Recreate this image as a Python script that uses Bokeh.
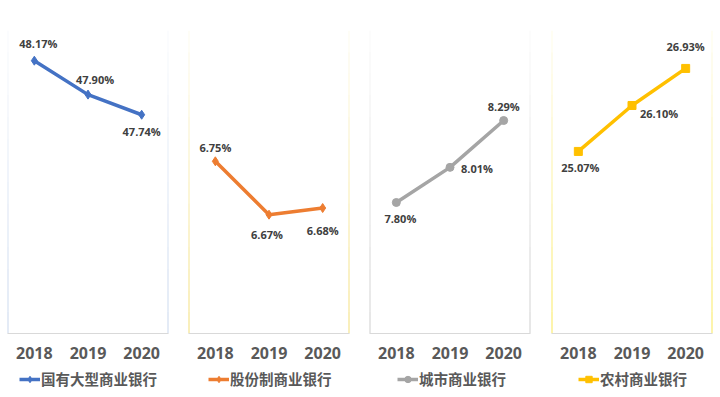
from bokeh.plotting import figure
from bokeh.models import Range1d, FixedTicker, Legend, LegendItem, ColumnDataSource
from bokeh.layouts import row, column
from bokeh.embed import file_html
from bokeh.resources import INLINE
from bokeh.core.properties import value

# ---- data ----
years = ["2018", "2019", "2020"]
series_names = ["国有大型商业银行", "股份制商业银行", "城市商业银行", "农村商业银行"]
big_state = [48.17, 47.90, 47.74]
joint_stock = [6.75, 6.67, 6.68]
city_banks = [7.80, 8.01, 8.29]
rural_banks = [25.07, 26.10, 26.93]
all_values = [big_state, joint_stock, city_banks, rural_banks]

# ---- styling ----
colors = ["#4472C4", "#ED7D31", "#A5A5A5", "#FFC000"]
border_colors = ["#c9d7ee", "#f3df7a", "#cfcfcf", "#fbe95a"]
markers = ["diamond", "diamond", "circle", "square"]
marker_sizes = [9, 9, 8, 8]
y_ranges = [(46.0, 48.41), (6.492, 6.946), (7.017, 8.828), (20.99, 27.78)]
# label offsets (screen px) per point
label_dx = [[4, 7, 0], [0, -2, 0], [4, 27, 0], [2, 27, 0]]
label_dy = [[-17, -15, 17], [-14, 20, 22], [16, 1, -14], [16, 8, -22]]
border_left = [7, 10, 10, 11]
border_right = [10, 10, 10, 1]
legend_x = [19, 30, 38, 38]


def style_common(p):
    p.outline_line_color = None
    p.grid.visible = False
    p.background_fill_color = "white"
    p.border_fill_color = "white"


plot_figs = []
legend_figs = []
for i in range(4):
    vals = all_values[i]
    xs = list(range(len(years)))
    src = ColumnDataSource(dict(
        x=xs, y=vals, lab=[f"{v:.2f}%" for v in vals],
        dx=label_dx[i], dy=label_dy[i]))
    p = figure(frame_width=161, frame_height=303, output_backend="svg", toolbar_location=None,
               x_range=Range1d(-0.5, len(years) - 0.5),
               y_range=Range1d(*y_ranges[i]),
               min_border_left=border_left[i], min_border_right=border_right[i],
               min_border_top=30, min_border_bottom=34)
    style_common(p)
    p.yaxis.visible = False

    # panel borders fading upward
    x0, x1 = p.x_range.start, p.x_range.end
    y0, y1 = p.y_range.start, p.y_range.end
    nseg = 14
    for k in range(nseg):
        ya = y0 + (y1 - y0) * k / nseg
        yb = y0 + (y1 - y0) * (k + 1) / nseg
        a = 1.0 - k / nseg * 0.92
        p.segment(x0=[x0, x1], y0=[ya, ya], x1=[x0, x1], y1=[yb, yb],
                  line_color=border_colors[i], line_alpha=a, line_width=2)

    ax = p.xaxis[0]
    ax.ticker = FixedTicker(ticks=xs)
    ax.major_label_overrides = {j: years[j] for j in xs}
    ax.axis_line_color = "#d9d9d9"
    ax.axis_line_width = 1
    ax.major_tick_line_color = None
    ax.minor_tick_line_color = None
    ax.major_label_standoff = 7
    ax.major_label_text_font = "Open Sans"
    ax.major_label_text_font_style = "bold"
    ax.major_label_text_font_size = "16px"
    ax.major_label_text_color = "#595959"

    p.line("x", "y", source=src, line_color=colors[i], line_width=3.5)
    p.scatter("x", "y", source=src, marker=markers[i], size=marker_sizes[i],
              fill_color=colors[i], line_color=colors[i])
    p.text("x", "y", text="lab", source=src, x_offset="dx", y_offset="dy",
           text_align="center", text_baseline="middle",
           text_font=value("Open Sans"), text_font_style="bold",
           text_font_size="11px", text_color="#404040")
    plot_figs.append(p)

    # legend strip under the panel (series drawn outside its view, only the key shows)
    q = figure(width=161 + border_left[i] + border_right[i], height=30,
               output_backend="svg", toolbar_location=None,
               x_axis_type=None, y_axis_type=None,
               x_range=Range1d(100, 101), y_range=Range1d(100, 101),
               min_border=0)
    style_common(q)
    ln = q.line("x", "y", source=src, line_color=colors[i], line_width=3.5)
    mk = q.scatter("x", "y", source=src, marker=markers[i], size=marker_sizes[i] - 1,
                   fill_color=colors[i], line_color=colors[i])
    leg = Legend(items=[LegendItem(label=series_names[i], renderers=[ln, mk])],
                 orientation="horizontal", location=(legend_x[i], 8),
                 border_line_color=None, background_fill_alpha=0,
                 label_text_font="Noto Sans CJK SC", label_text_font_style="bold",
                 label_text_font_size="14.5px", label_text_color="#595959",
                 glyph_width=21, glyph_height=16, label_standoff=1,
                 label_height=18, padding=0, margin=0, spacing=0)
    q.add_layout(leg, "center")
    legend_figs.append(q)

layout = column(row(*plot_figs, spacing=0), row(*legend_figs, spacing=0), spacing=0)
open("out.html", "w").write(file_html(layout, INLINE))
